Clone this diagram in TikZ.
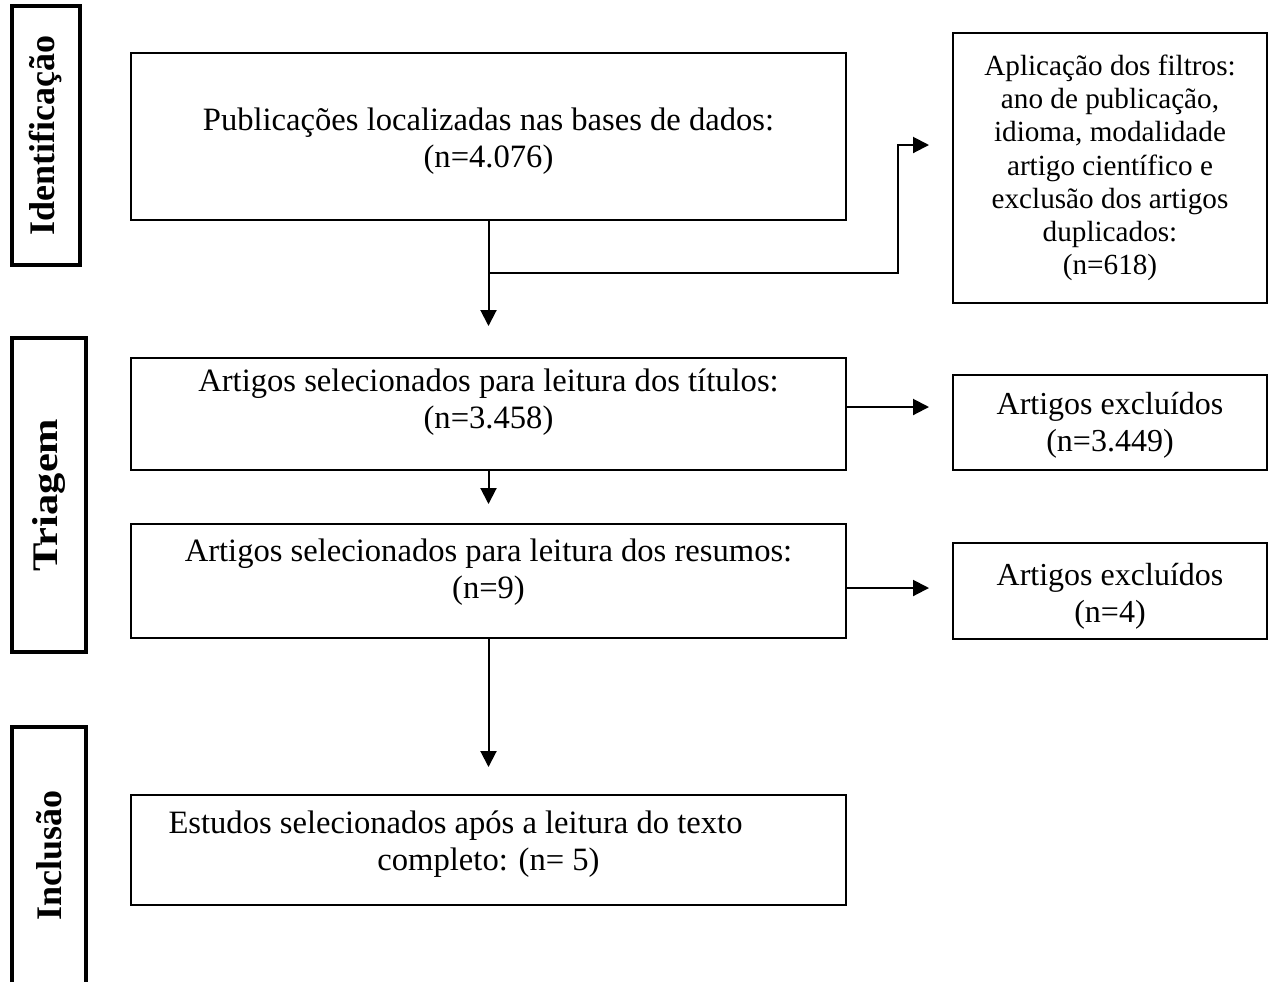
\documentclass[tikz,border=0pt]{standalone}
\usepackage{fontspec}
\setmainfont{Liberation Serif}
\usetikzlibrary{calc,positioning,arrows.meta}

\tikzset{
  mainbox/.style={draw, line width=1pt, minimum width=357.5pt, inner sep=0pt, align=center, font=\fontsize{16.3}{18.5}\selectfont},
  outbox/.style={draw, line width=1pt, minimum width=157pt, inner sep=0pt, align=center, font=\fontsize{16}{18.5}\selectfont},
  stagebox/.style={draw, line width=2pt, rotate=90, inner sep=0pt, font=\bfseries\fontsize{18}{20}\selectfont},
  arr/.style={line width=1pt, -{Triangle[length=8pt,width=8pt]}},
}

\begin{document}
\begin{tikzpicture}[x=0.5pt, y=-0.5pt]
                \useasboundingbox (0,0) rectangle (1273,982);

                % Stages
                \node[stagebox, minimum width=129.5pt, minimum height=34pt] (ident) at (46,135.5) {Identificação};
                \node[stagebox, minimum width=157pt, minimum height=37pt] (triag) at (49,495) {\scalebox{1.18}[1]{Triagem}};
                \draw[line width=2pt] (12,982) -- (12,727) -- (86,727) -- (86,982);
                \node[stagebox, draw=none] (incl) at (49,855) {Inclusão};

                % Main flow
                \node[mainbox, text height=57pt, text depth=26.5pt] (pub) at (488.5,136.5) {Publicações localizadas nas bases de dados:\\(n=4.076)};
                \node[mainbox, text height=35pt, text depth=21pt] (tit) at (488.5,414) {Artigos selecionados para leitura dos títulos:\\(n=3.458)};
                \node[mainbox, text height=37pt, text depth=20pt] (res) at (488.5,581) {Artigos selecionados para leitura dos resumos:\\(n=9)};
                \node[mainbox, text height=37.5pt, text depth=17.5pt] (est) at (488.5,850) {Estudos selecionados após a leitura do texto\hspace*{33pt}\\completo: (n= 5)};

                % Exclusions
                \node[outbox, minimum height=135pt, font=\fontsize{14.6}{16.6}\selectfont] (filt) at (1110,168) {Aplicação dos filtros:\\ano de publicação,\\idioma, modalidade\\artigo científico e\\exclusão dos artigos\\duplicados:\\(n=618)};
                \node[outbox, text height=38.5pt, text depth=9pt] (exc1) at (1110,422) {Artigos excluídos\\(n=3.449)};
                \node[outbox, text height=39.5pt, text depth=8.5pt] (exc2) at (1110,591) {Artigos excluídos\\(n=4)};

                % Arrows
                \coordinate (split) at ($(pub.south)+(0,52)$);
                \coordinate (t1) at ($(tit.east)+(0,-7)$);
                \coordinate (t2) at ($(res.east)+(0,7)$);
                \draw[arr, shorten >=15.5pt] (pub.south) -- (tit.north);
                \draw[arr, shorten >=11.5pt] (split) -| ($(filt.west)+(-54,-23)$) -- ($(filt.west)+(0,-23)$);
                \draw[arr, shorten >=11.5pt] (t1) -- (t1 -| exc1.west);
                \draw[arr, shorten >=9.5pt] (tit.south) -- (res.north);
                \draw[arr, shorten >=11.5pt] (t2) -- (t2 -| exc2.west);
                \draw[arr, shorten >=13.5pt] (res.south) -- (est.north);
            \end{tikzpicture}
\end{document}
